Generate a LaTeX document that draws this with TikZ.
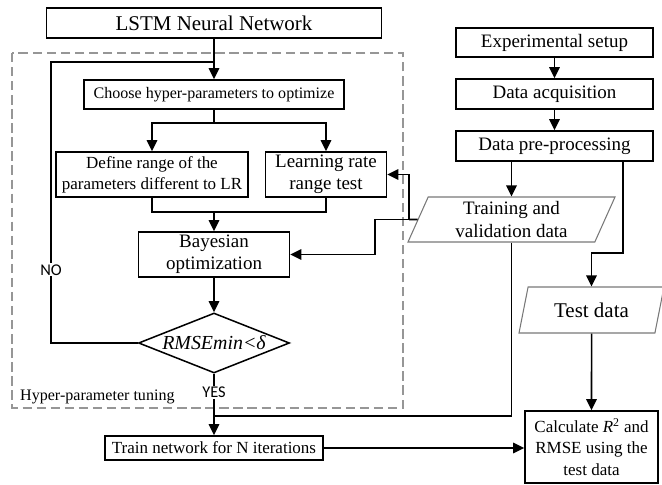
\documentclass[tikz,border=0pt]{standalone}
\usepackage{fontspec}
\setmainfont{Liberation Serif}
\newfontfamily\yesnofont{Carlito}
\usepackage{tikz}
\usetikzlibrary{positioning}
\usetikzlibrary{arrows.meta}
\usetikzlibrary{shapes,calc}
\definecolor{framegray}{RGB}{150,150,150}
\definecolor{datagray}{RGB}{120,120,120}

\tikzset{
    bigtext/.style={font=\fontsize{17.9}{21}\selectfont},
    midtext/.style={font=\fontsize{16.2}{19}\selectfont},
    smalltext/.style={font=\fontsize{14.5}{18}\selectfont},
    tinytext/.style={font=\fontsize{13.7}{16}\selectfont},
    answer/.style={fill=white, inner sep=1pt, font=\yesnofont\fontsize{14}{16}\selectfont},
    datastep/.style={shape=trapezium, trapezium left angle=62, trapezium right angle=118,
        trapezium stretches body, draw=datagray, line width=0.9pt, inner sep=1pt, align=center},
}

\begin{document}
\begin{tikzpicture}
    \useasboundingbox (0,0) rectangle (19.86,14.55);

    % tuning frame
    \draw[framegray, line width=1.1pt, dash pattern=on 8pt off 4pt] (0.36,12.96) rectangle (12.09,2.31);
    \node[tinytext, anchor=west, inner sep=0pt] (tuning) at (0.6,2.64) {Hyper-parameter tuning};

    \begin{scope}[every node/.style={draw, rectangle, line width=1.3pt, inner sep=1pt, align=center}]
        \node (lstm) [bigtext, minimum width=10.05cm, minimum height=0.9cm] at (6.42,13.86) {LSTM Neural Network};
        \node (choose) [tinytext, minimum width=7.8cm, minimum height=0.87cm] at (6.42,11.715) {Choose hyper-parameters to optimize};
        \node (define) [smalltext, minimum width=5.76cm, minimum height=1.35cm] at (4.56,9.315) {Define range of the\\parameters different to LR};
        \node (lrtest) [midtext, minimum width=3.63cm, minimum height=1.35cm] at (9.78,9.315) {Learning rate\\range test};
        \node (bayes) [midtext, minimum width=4.53cm, minimum height=1.35cm] at (6.42,6.915) {Bayesian\\optimization};
        \node (check) [diamond, aspect=2.6, inner sep=0pt, minimum width=4.53cm, minimum height=1.8cm,
            font=\fontsize{17}{20}\selectfont\itshape] at (6.42,4.26) {RMSEmin<δ};
        \node (train) [smalltext, minimum width=6.54cm, minimum height=0.72cm] at (6.42,1.11) {Train network for N iterations};

        \node (setup) [midtext, minimum width=5.91cm, minimum height=0.87cm] at (16.635,13.275) {Experimental setup};
        \node (acq) [midtext, minimum width=5.91cm, minimum height=0.9cm] at (16.635,11.73) {Data acquisition};
        \node (prep) [midtext, minimum width=5.91cm, minimum height=0.9cm] at (16.635,10.17) {Data pre-processing};
        \node (calc) [smalltext, minimum width=3.99cm, minimum height=2.16cm] at (17.745,1.14) {Calculate \textit{R}\textsuperscript{2} and\\RMSE using the\\test data};
    \end{scope}

    \node (trdata) [datastep, midtext, minimum width=6.21cm, minimum height=1.35cm] at (15.345,7.965) {Training and\\validation data};
    \node (tsdata) [datastep, bigtext, minimum width=4.35cm, minimum height=1.38cm] at (17.745,5.25) {Test data};

    \coordinate (loop) at (1.53,12.69);
    \coordinate (split) at (6.42,10.86);
    \coordinate (merge) at (6.42,8.19);
    \coordinate (feed) at (12.27,7.965);
    \coordinate (feedlow) at (11.25,7.965);
    \coordinate (tap) at (18.69,6.96);
    \coordinate (join) at (6.42,2.07);

    \begin{scope}[>={Triangle[length=9.5pt,width=9pt]}, line width=1.3pt]
        \path [->] (lstm) edge (choose);
        \draw (check) -| node[pos=0.63, answer] {NO} (loop) -- (loop -| choose.north);
        \draw (choose) -- (split);
        \draw [->] (split) -| (define);
        \draw [->] (split) -| (lrtest);
        \draw (define) |- (merge) -| (lrtest);
        \path [->] (merge) edge (bayes);
        \path [->] (bayes) edge (check);
        \draw [->] (check) -- node[pos=0.3, answer] {YES} (train);

        \path [->] (setup) edge (acq);
        \path [->] (acq) edge (prep);
        \draw [->] (prep.south -| trdata.north) -- (trdata.north);
        \draw [->] (prep.south -| tap) -- (tap) -| (tsdata);

        \draw (trdata) -- (feed);
        \draw [->] (feed) |- (lrtest);
        \draw [->] (feed) -- (feedlow) |- (bayes);
        \draw (trdata) |- (join);
        \draw [->] (train.east) -- (train.east -| calc.west);
        \path [->] (tsdata) edge (calc);
    \end{scope}
\end{tikzpicture}
\end{document}
